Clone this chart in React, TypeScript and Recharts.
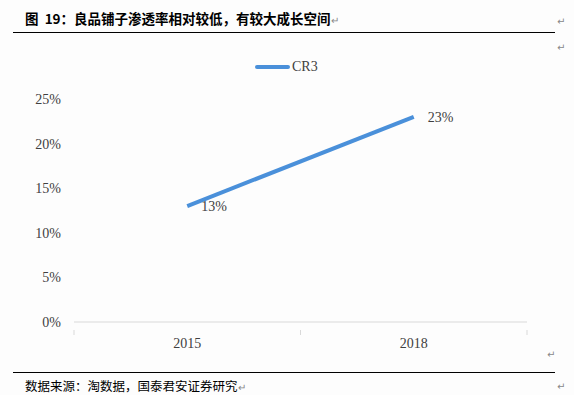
import React from "react";
import { LineChart, Line, XAxis, YAxis, LabelList } from "recharts";

const years = ["2015", "2018"];
const cr3 = [13, 23];
const yTicks = [0, 5, 10, 15, 20, 25];

const data = years.map((year, i) => ({ year, pos: i + 0.5, cr3: cr3[i] }));
// boundaries get a small tick mark, band centres get the year label
const xTicks = [0, 0.5, 1, 1.5, 2];

const LINE_COLOR = "#4A90DA";
const TEXT = "#404040";
const SERIF = "'Liberation Serif', 'Times New Roman', serif";

const Mark: React.FC<{ x: number; y: number }> = ({ x, y }) => (
  <div style={{ position: "absolute", left: x, top: y, fontSize: 10, color: "#888", fontFamily: "'DejaVu Sans', sans-serif", lineHeight: "12px" }}>↵</div>
);

const XTick = (props: any) => {
  const { x, y, payload } = props;
  const v = payload.value as number;
  if (Number.isInteger(v)) {
    return <line x1={x} y1={y} x2={x} y2={y + 5} stroke="#d9d9d9" />;
  }
  const label = years[Math.floor(v)];
  return (
    <text x={x} y={y + 18} textAnchor="middle" fill={TEXT} fontSize={14} fontFamily={SERIF}>
      {label}
    </text>
  );
};

export default function App() {
  return (
    <div style={{ position: "absolute", left: 0, top: 0, width: 574, height: 395, background: "#fdfdfd", overflow: "hidden" }}>
      <div style={{ position: "absolute", left: 25, top: 8, fontFamily: "'Noto Sans CJK SC', sans-serif", fontWeight: 700, fontSize: 13.5, color: "#000", whiteSpace: "nowrap" }}>
        图&nbsp; 19：良品铺子渗透率相对较低，有较大成长空间<span style={{ fontWeight: 400, fontSize: 10, color: "#888" }}>↵</span>
      </div>
      <div style={{ position: "absolute", left: 13, top: 32, width: 542, height: 1, background: "#000" }} />
      <Mark x={557} y={16} />
      <Mark x={557} y={42} />
      <Mark x={547} y={349} />
      <Mark x={557} y={381} />
      <div style={{ position: "absolute", left: 255, top: 59, display: "flex", alignItems: "center", fontFamily: SERIF, fontSize: 14, color: TEXT }}>
        <svg width={35} height={6} style={{ marginRight: 2 }}>
          <line x1={2} y1={3} x2={33} y2={3} stroke={LINE_COLOR} strokeWidth={4} strokeLinecap="round" />
        </svg>
        <span>CR3</span>
      </div>
      <div style={{ position: "absolute", left: 0, top: 0 }}>
        <LineChart width={574} height={395} data={data} margin={{ top: 99, right: 47, bottom: 43, left: 14 }}>
          <XAxis
            type="number"
            dataKey="pos"
            domain={[0, years.length]}
            ticks={xTicks}
            interval={0}
            height={30}
            axisLine={{ stroke: "#d9d9d9" }}
            tickLine={false}
            tick={<XTick />}
          />
          <YAxis
            type="number"
            domain={[0, 25]}
            ticks={yTicks}
            tickFormatter={(v: number) => `${v}%`}
            axisLine={false}
            tickLine={false}
            width={60}
            tickMargin={7}
            tick={{ fill: TEXT, fontSize: 14, fontFamily: SERIF }}
          />
          <Line
            type="linear"
            dataKey="cr3"
            name="CR3"
            stroke={LINE_COLOR}
            strokeWidth={4}
            dot={false}
            activeDot={false}
            isAnimationActive={false}
          >
            <LabelList
              dataKey="cr3"
              position="right"
              offset={14}
              formatter={(v: number) => `${v}%`}
              style={{ fill: TEXT, fontSize: 14, fontFamily: SERIF }}
            />
          </Line>
        </LineChart>
      </div>
      <div style={{ position: "absolute", left: 13, top: 372, width: 542, height: 1, background: "#000" }} />
      <div style={{ position: "absolute", left: 25, top: 376, fontFamily: "'Noto Sans CJK SC', sans-serif", fontSize: 12.5, color: "#000", whiteSpace: "nowrap" }}>
        数据来源：淘数据，国泰君安证券研究<span style={{ fontSize: 10, color: "#888" }}>↵</span>
      </div>
    </div>
  );
}
